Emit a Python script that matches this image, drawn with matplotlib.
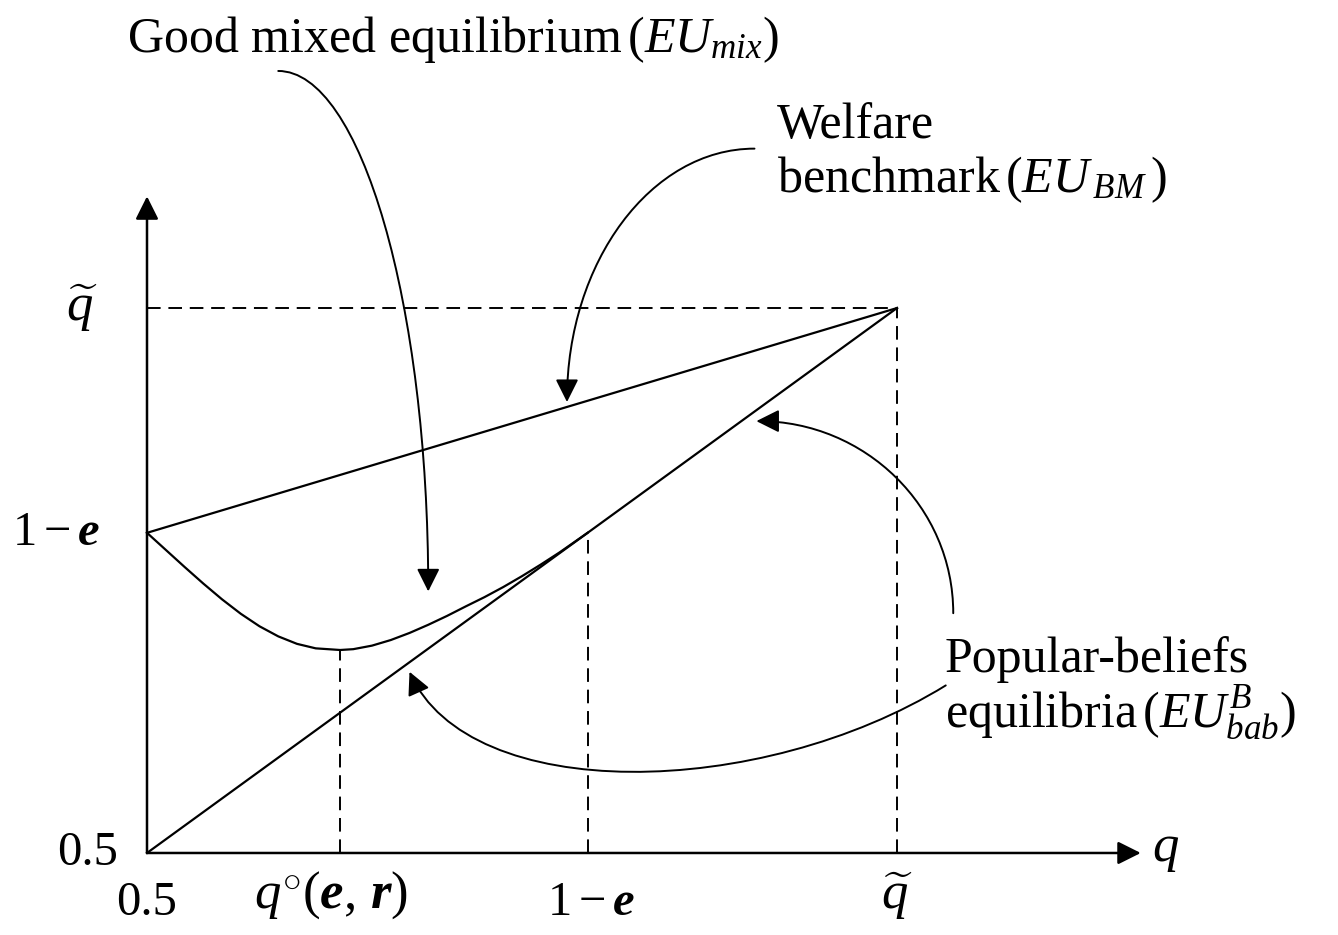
import numpy as np
import matplotlib.pyplot as plt
from matplotlib.path import Path
from matplotlib.patches import FancyArrowPatch

plt.rcParams['font.family'] = ['Liberation Serif', 'DejaVu Serif']
plt.rcParams['mathtext.fontset'] = 'custom'
plt.rcParams['mathtext.rm'] = 'Liberation Serif'
plt.rcParams['mathtext.it'] = 'Liberation Serif:italic'
plt.rcParams['mathtext.bf'] = 'Liberation Serif:bold'
plt.rcParams['mathtext.bfit'] = 'Liberation Serif:italic:bold'

# key points on the q axis / value axis
q_low = 0.5
q_tilde = 0.9
one_minus_e = 0.735
q_circ = 0.603

# good mixed equilibrium curve
mix_q = [0.500, 0.510, 0.520, 0.530, 0.540, 0.550, 0.560, 0.570, 0.580, 0.590, 0.603,
         0.610, 0.620, 0.630, 0.640, 0.650, 0.660, 0.670, 0.680, 0.690, 0.700, 0.710,
         0.720, 0.735]
mix_eu = [0.7350, 0.7225, 0.7100, 0.6978, 0.6862, 0.6756, 0.6664, 0.6590, 0.6535, 0.6502, 0.6490,
          0.6496, 0.6522, 0.6563, 0.6615, 0.6675, 0.6740, 0.6810, 0.6878, 0.6952, 0.7032, 0.7117,
          0.7206, 0.7350]

# welfare benchmark and popular-beliefs lines
bm_q = [q_low, q_tilde]
bm_eu = [one_minus_e, q_tilde]
bab_q = [q_low, q_tilde]
bab_eu = [q_low, q_tilde]

# curved pointers (cubic bezier control points: start, c1, c2, tip)
arrow_mix = [(0.570, 1.074), (0.614, 1.074), (0.650, 0.903), (0.650, 0.692)]
arrow_bm = [(0.824, 1.017), (0.769, 1.017), (0.724, 0.934), (0.724, 0.831)]
arrow_bab1 = [(0.930, 0.676), (0.930, 0.754), (0.883, 0.817), (0.825, 0.817)]
arrow_bab2 = [(0.926, 0.623), (0.827, 0.539), (0.672, 0.535), (0.640, 0.633)]

fig = plt.figure(figsize=(13.38, 9.35), dpi=100)
ax = fig.add_axes([0, 0, 1, 1])
ax.set_xlim(0.4216, 1.1352)
ax.set_ylim(0.4398, 1.1261)
ax.axis('off')

lw = 1.6
dash = (0, (7, 4))
head = '-|>,head_length=0.7,head_width=0.35'

# axes with arrow heads
ax.add_patch(FancyArrowPatch((q_low, q_low), (1.030, q_low), arrowstyle=head,
                             mutation_scale=20, color='black', lw=1.8, shrinkA=0, shrinkB=0))
ax.add_patch(FancyArrowPatch((q_low, q_low), (q_low, 0.982), arrowstyle=head,
                             mutation_scale=20, color='black', lw=1.8, shrinkA=0, shrinkB=0))

# dashed guides
ax.plot([q_low, q_tilde], [q_tilde, q_tilde], color='black', lw=1.4, ls=dash)
ax.plot([q_tilde, q_tilde], [q_low, q_tilde], color='black', lw=1.4, ls=dash)
ax.plot([one_minus_e, one_minus_e], [q_low, one_minus_e], color='black', lw=1.4, ls=dash)
ax.plot([q_circ, q_circ], [q_low, min(mix_eu)], color='black', lw=1.4, ls=dash)

# curves
ax.plot(bm_q, bm_eu, color='black', lw=lw)
ax.plot(bab_q, bab_eu, color='black', lw=lw)
ax.plot(mix_q, mix_eu, color='black', lw=lw, solid_joinstyle='round')

codes = [Path.MOVETO, Path.CURVE4, Path.CURVE4, Path.CURVE4]
for pts in [arrow_mix, arrow_bm, arrow_bab1, arrow_bab2]:
    ax.add_patch(FancyArrowPatch(path=Path(pts, codes), arrowstyle=head,
                                 mutation_scale=20, color='black', lw=1.4))

fs = 36
tfs = 35
ax.text(0.4893, 1.088, r'Good mixed equilibrium$\,(EU_{mix})$', fontsize=fs, va='baseline')
ax.text(0.836, 1.025, 'Welfare', fontsize=fs, va='baseline')
ax.text(0.836, 0.985, r'benchmark$\,(EU_{\,BM}\,)$', fontsize=fs, va='baseline')
ax.text(0.9256, 0.633, 'Popular-beliefs', fontsize=fs, va='baseline')
ax.text(0.9256, 0.592, r'equilibria$\,(EU_{bab}^{B})$', fontsize=fs, va='baseline')

# value axis labels
ax.text(0.4737, q_tilde, r'$\widetilde{q}$', fontsize=tfs + 3, ha='right', va='center')
ax.text(0.4749, one_minus_e, r'$1-\mathbfit{e}$', fontsize=tfs, ha='right', va='center')
ax.text(0.4845, q_low, '0.5', fontsize=tfs, ha='right', va='center')

# q axis labels
ax.text(q_low, 0.463, '0.5', fontsize=tfs, ha='center', va='center')
ax.text(q_circ - 0.005, 0.469, r'$q^{\circ}(\mathbfit{e},\,\mathbfit{r})$', fontsize=tfs + 3,
        ha='center', va='center')
ax.text(one_minus_e + 0.002, 0.463, r'$1-\mathbfit{e}$', fontsize=tfs, ha='center', va='center')
ax.text(q_tilde, 0.468, r'$\widetilde{q}$', fontsize=tfs + 3, ha='center', va='center')
ax.text(1.036, q_low + 0.002, r'$q$', fontsize=tfs + 3, ha='left', va='center')

fig.savefig('out.png', dpi=100)
